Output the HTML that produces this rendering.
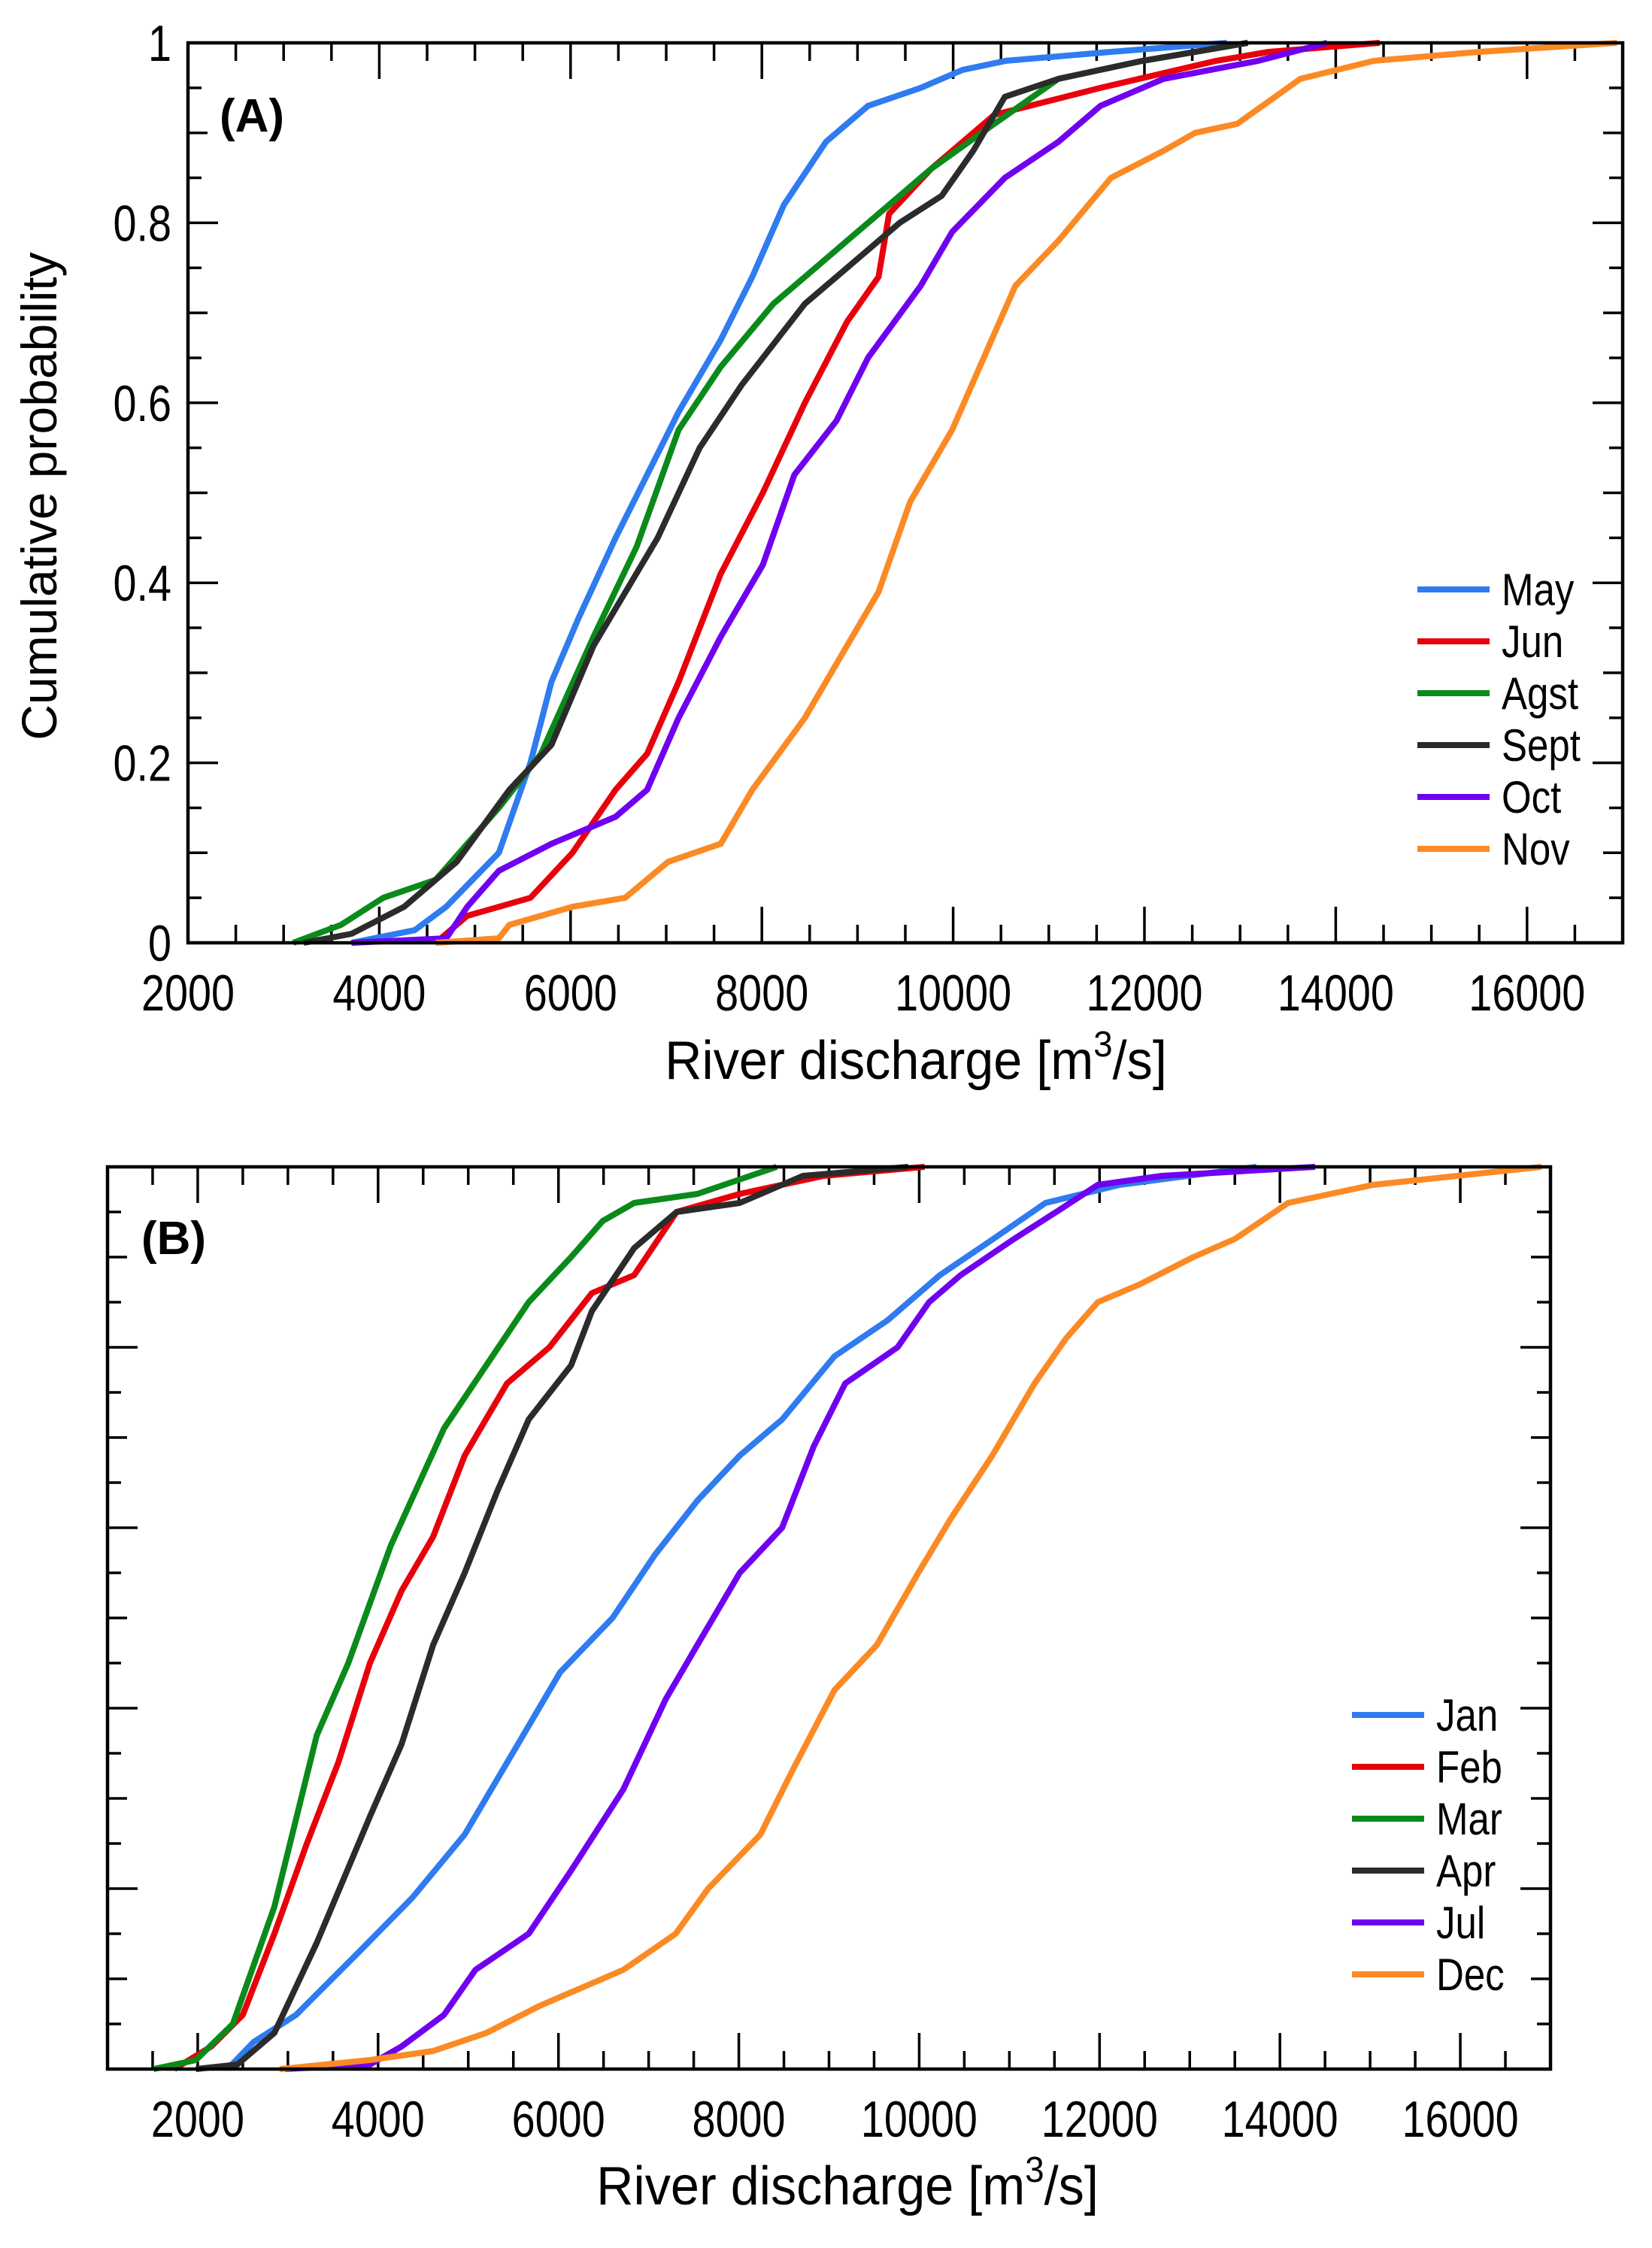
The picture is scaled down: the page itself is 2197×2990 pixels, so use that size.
<!DOCTYPE html>
<html><head><meta charset="utf-8"><style>
html,body{margin:0;padding:0;background:#fff;}
svg{display:block;font-family:"Liberation Sans",Arial,sans-serif;}
</style></head><body>
<svg id="fig" width="2197" height="2990" viewBox="0 0 2197 2990" xmlns="http://www.w3.org/2000/svg">
<rect width="2197" height="2990" fill="#fff"/>
<g id="pa"></g>
<g id="pb"></g>
</svg>
<script>
const colors = {blue:"#2f7bf0",red:"#e8000b",green:"#0a8a1a",black:"#2b2b2b",purple:"#7000f0",orange:"#fb8a25"};
const xTicks = [2000,4000,6000,8000,10000,12000,14000,16000];
const yTicks = [0,0.2,0.4,0.6,0.8,1];
const yTickLabels = ["0","0.2","0.4","0.6","0.8","1"];
const seriesNamesA = ["May","Jun","Agst","Sept","Oct","Nov"];
const seriesNamesB = ["Jan","Feb","Mar","Apr","Jul","Dec"];
const seriesColorsA = ["blue","red","green","black","purple","orange"];
const seriesColorsB = ["blue","red","green","black","purple","orange"];
const mayX=[3710,4370,4700,5250,5580,5800,6080,6470,6800,7130,7570,7900,8230,8670,9110,9660,10100,10550,11650,12860];
const mayY=[0,0.014,0.04,0.10,0.20,0.29,0.36,0.45,0.52,0.59,0.67,0.74,0.82,0.89,0.93,0.95,0.97,0.98,0.99,1];
const junX=[4590,4920,5580,6020,6470,6800,7130,7570,8010,8450,8890,9220,9330,9770,10430,11540,12750,13300,14460];
const junY=[0,0.03,0.05,0.10,0.17,0.21,0.29,0.41,0.50,0.60,0.69,0.74,0.81,0.86,0.92,0.95,0.98,0.99,1];
const agsX=[3100,3600,4040,4590,5250,5690,6240,6690,7130,7570,8120,8560,9220,9770,10430,11100,11980,13080];
const agsY=[0,0.02,0.05,0.07,0.15,0.21,0.34,0.44,0.57,0.64,0.71,0.75,0.81,0.86,0.91,0.96,0.98,1];
const sepX=[3210,3710,4260,4810,5360,5800,6240,6910,7350,7790,8450,8890,9440,9880,10210,10540,11100,11980,13080];
const sepY=[0,0.01,0.04,0.09,0.17,0.22,0.33,0.45,0.55,0.62,0.71,0.75,0.80,0.83,0.88,0.94,0.96,0.98,1];
const octX=[3710,4700,4920,5250,5800,6470,6800,7130,7570,8010,8340,8780,9110,9660,9990,10540,11100,11540,12200,13190,13910];
const octY=[0,0.005,0.04,0.08,0.11,0.14,0.17,0.25,0.34,0.42,0.52,0.58,0.65,0.73,0.79,0.85,0.89,0.93,0.96,0.98,1];
const novX=[4590,5250,5360,6020,6570,7020,7570,7900,8450,8890,9220,9550,9990,10320,10650,11100,11650,12200,12530,12970,13630,14400,15500,16940];
const novY=[0,0.005,0.02,0.04,0.05,0.09,0.11,0.17,0.25,0.33,0.39,0.49,0.57,0.65,0.73,0.78,0.85,0.88,0.90,0.91,0.96,0.98,0.99,1];
const janX=[2330,2620,3090,3790,4380,4960,5550,6020,6600,7070,7540,8010,8480,9060,9650,10230,10820,11400,12220,13740];
const janY=[0,0.03,0.06,0.13,0.19,0.26,0.36,0.44,0.50,0.57,0.63,0.68,0.72,0.79,0.83,0.88,0.92,0.96,0.98,1];
const febX=[1740,2150,2500,2850,3210,3560,3910,4260,4610,4960,5430,5900,6370,6840,7310,8010,8940,10060];
const febY=[0,0.025,0.06,0.15,0.25,0.34,0.45,0.53,0.59,0.68,0.76,0.80,0.86,0.88,0.95,0.97,0.99,1];
const marX=[1510,1980,2390,2850,3320,3670,4140,4730,5200,5670,6140,6490,6840,7540,8420];
const marY=[0,0.01,0.05,0.18,0.37,0.45,0.58,0.71,0.78,0.85,0.90,0.94,0.96,0.97,1];
const aprX=[1980,2440,2850,3320,3910,4260,4610,4960,5320,5670,6140,6370,6840,7310,8010,8710,9880];
const aprY=[0,0.005,0.04,0.14,0.28,0.36,0.47,0.55,0.64,0.72,0.78,0.84,0.91,0.95,0.96,0.99,1];
const julX=[2970,3910,4260,4730,5080,5670,6140,6720,7190,7540,8010,8480,8830,9180,9760,10110,10460,11050,11520,11980,12690,14390];
const julY=[0,0.005,0.025,0.06,0.11,0.15,0.22,0.31,0.41,0.47,0.55,0.60,0.69,0.76,0.80,0.85,0.88,0.92,0.95,0.98,0.99,1];
const decX=[2910,3910,4610,5200,5790,6720,7300,7660,8240,8590,9060,9530,9990,10350,10810,11280,11630,11980,12450,13040,13500,14090,15030,16900];
const decY=[0,0.01,0.02,0.04,0.07,0.11,0.15,0.20,0.26,0.33,0.42,0.47,0.55,0.61,0.68,0.76,0.81,0.85,0.87,0.90,0.92,0.96,0.98,1];

const NS="http://www.w3.org/2000/svg";
function mk(parent,tag,attrs,text){const e=document.createElementNS(NS,tag);for(const k in attrs)e.setAttribute(k,attrs[k]);if(text!==undefined)e.textContent=text;parent.appendChild(e);return e;}
function sq(x,s){return `translate(${x},0) scale(${s},1) translate(${-x},0)`;}

function panel(g,cfg,xs,ys,names,cols){
  const sx=v=>cfg.L+(v-cfg.xmin)/(cfg.xmax-cfg.xmin)*(cfg.R-cfg.L);
  const sy=v=>cfg.B-v*(cfg.B-cfg.T);
  for(let v=cfg.xmin;v<=cfg.xmax;v+=500){
    const major=v%2000===0, len=major?48:24;
    const x=sx(v);
    const t1=mk(g,"line",{x1:x,y1:cfg.B,x2:x,y2:cfg.B-len,stroke:"#000","stroke-width":3.5});
    
    
    const t2=mk(g,"line",{x1:x,y1:cfg.T,x2:x,y2:cfg.T+len,stroke:"#000","stroke-width":3.5});
    
    
  }
  for(let i=0;i<=20;i++){
    const v=i*0.05, y=sy(v), len=(i%4===0)?40:(i%2===0?26:18);
    const t1=mk(g,"line",{x1:cfg.L,y1:y,x2:cfg.L+len,y2:y,stroke:"#000","stroke-width":3.5});
    
    
    const t2=mk(g,"line",{x1:cfg.R,y1:y,x2:cfg.R-len,y2:y,stroke:"#000","stroke-width":3.5});
    
    
  }
  xTicks.forEach(v=>{
    const t=mk(g,"text",{x:sx(v),y:cfg.B+90,"text-anchor":"middle","font-size":68,transform:sq(sx(v),0.82)},String(v));
    
    
  });
  if(cfg.ylabels){
    yTicks.forEach((v,i)=>{
      const t=mk(g,"text",{x:cfg.L-22,y:sy(v)+24,"text-anchor":"end","font-size":68,transform:sq(cfg.L-22,0.82)},yTickLabels[i]);
      
      
    });
  }
  xs.forEach((X,si)=>{
    const pts=X.map((v,i)=>sx(v).toFixed(1)+","+sy(ys[si][i]).toFixed(1)).join(" ");
    const p=mk(g,"polyline",{points:pts,fill:"none",stroke:colors[cols[si]],"stroke-width":8,"stroke-linejoin":"round"});
    
    
  });
  const fr=mk(g,"rect",{x:cfg.L,y:cfg.T,width:cfg.R-cfg.L,height:cfg.B-cfg.T,fill:"none",stroke:"#000","stroke-width":4.5});
  
  
  names.forEach((n,i)=>{
    const y=cfg.legY+i*69;
    const l=mk(g,"line",{x1:cfg.legX,y1:y,x2:cfg.legX+96,y2:y,stroke:colors[cols[i]],"stroke-width":8});
    
    
    const t=mk(g,"text",{x:cfg.legX+112,y:y+21,"font-size":60,transform:sq(cfg.legX+112,0.85)},n);
    
    
  });
  const pl=mk(g,"text",{x:cfg.labX,y:cfg.labY,"font-size":62,"font-weight":"bold"},cfg.label);
  
  
  const xt=mk(g,"text",{x:cfg.xtX,y:cfg.xtY,"text-anchor":"middle","font-size":72,transform:sq(cfg.xtX,0.95)});
  
  
  xt.innerHTML='River discharge [m<tspan dy="-30" font-size="48">3</tspan><tspan dy="30">/s]</tspan>';
}
const pa=document.getElementById('pa'), pb=document.getElementById('pb');
panel(pa,{L:250,R:2158,T:57,B:1254,xmin:2000,xmax:17000,ylabels:true,legX:1885,legY:784,label:"(A)",labX:292,labY:175,xtX:1218,xtY:1435},
  [mayX,junX,agsX,sepX,octX,novX],[mayY,junY,agsY,sepY,octY,novY],seriesNamesA,seriesColorsA);
panel(pb,{L:143,R:2062,T:1552,B:2752,xmin:1000,xmax:17000,ylabels:false,legX:1798,legY:2281,label:"(B)",labX:188,labY:1668,xtX:1127,xtY:2932},
  [janX,febX,marX,aprX,julX,decX],[janY,febY,marY,aprY,julY,decY],seriesNamesB,seriesColorsB);
const yt=mk(pa,"text",{x:0,y:0,"text-anchor":"middle","font-size":66,transform:"translate(75,660) rotate(-90)"},"Cumulative probability");


</script>
</body></html>
